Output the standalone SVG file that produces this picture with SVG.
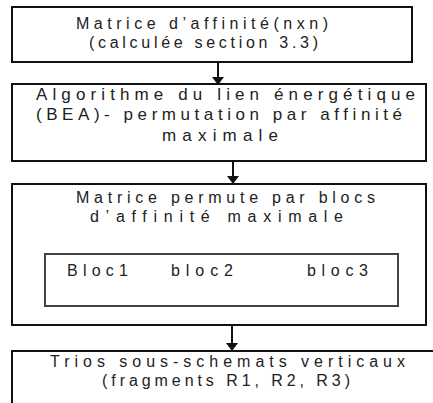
<svg xmlns="http://www.w3.org/2000/svg" width="433" height="403" viewBox="0 0 433 403">
<style>
.box{fill:#fff;stroke:#111;stroke-width:2}
.inner{fill:#fff;stroke:#444;stroke-width:2}
.t{font-family:"Liberation Sans",Arial,sans-serif;font-size:16px;fill:#222}
.t2{font-size:17px}
.ln{stroke:#111;stroke-width:2;fill:none}
.hd{fill:#111}
</style>
<rect width="433" height="403" fill="#fff"/>
<g id="connectors">
<line class="ln" x1="218" y1="62" x2="218" y2="78"/>
<polygon class="hd" points="212,77 224,77 218,85"/>
<line class="ln" x1="233" y1="161" x2="233" y2="177"/>
<polygon class="hd" points="227,176 239,176 233,184"/>
<line class="ln" x1="232" y1="325" x2="232" y2="344"/>
<polygon class="hd" points="226,343 238,343 232,351"/>
</g>
<g id="node1">
<rect class="box" x="12" y="7" width="400" height="55"/>
<text class="t" x="76" y="29" textLength="252" lengthAdjust="spacing">Matrice d’affinité(nxn)</text>
<text class="t" x="89" y="48" textLength="229" lengthAdjust="spacing">(calculée section 3.3)</text>
</g>
<g id="node2">
<rect class="box" x="12" y="84" width="414" height="77"/>
<text class="t t2" x="36" y="100" textLength="379" lengthAdjust="spacing">Algorithme du lien énergétique</text>
<text class="t t2" x="36" y="120" textLength="366" lengthAdjust="spacing">(BEA)- permutation par affinité</text>
<text class="t t2" x="162" y="141" textLength="116" lengthAdjust="spacing">maximale</text>
</g>
<g id="node3">
<rect class="box" x="12" y="184" width="414" height="141"/>
<text class="t" x="76" y="203" textLength="299" lengthAdjust="spacing">Matrice permute par blocs</text>
<text class="t" x="90" y="222" textLength="253" lengthAdjust="spacing">d’affinité maximale</text>
</g>
<g id="node3-inner">
<rect class="inner" x="45" y="254" width="353" height="52"/>
<text class="t" x="67" y="276" textLength="61" lengthAdjust="spacing">Bloc1</text>
<text class="t" x="171" y="276" textLength="62" lengthAdjust="spacing">bloc2</text>
<text class="t" x="307" y="276" textLength="61" lengthAdjust="spacing">bloc3</text>
</g>
<g id="node4">
<rect class="box" x="12" y="351" width="440" height="80"/>
<text class="t" x="50" y="367" textLength="355" lengthAdjust="spacing">Trios sous-schemats verticaux</text>
<text class="t" x="102" y="386" textLength="248" lengthAdjust="spacing">(fragments R1, R2, R3)</text>
</g>
</svg>
